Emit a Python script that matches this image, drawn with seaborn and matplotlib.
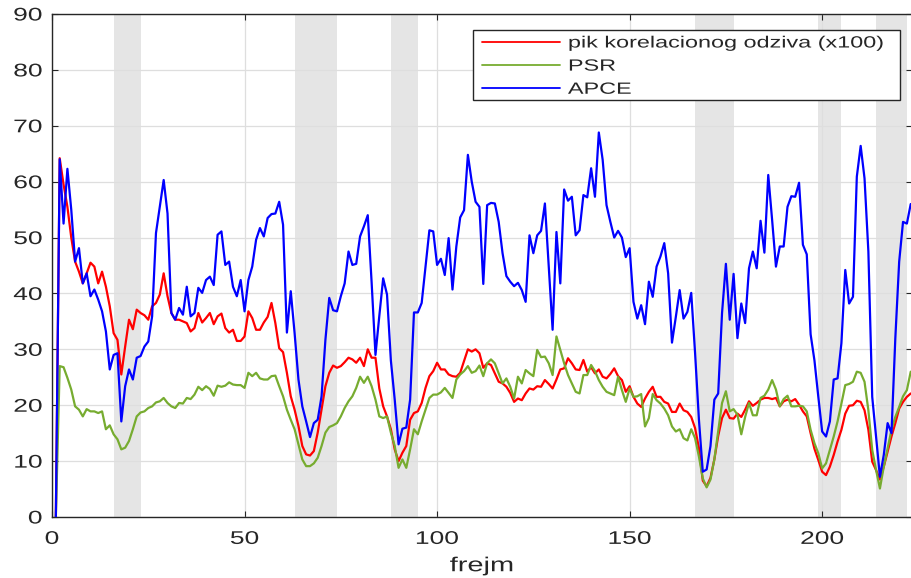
import numpy as np
import pandas as pd
import matplotlib
matplotlib.use("Agg")
import matplotlib.pyplot as plt
import seaborn as sns
from matplotlib.patches import Rectangle
from matplotlib.patheffects import AbstractPathEffect
from matplotlib.transforms import Affine2D

# Per-frame tracking quality measures (frames 1..223)
peak = [
    0, 64.2, 59.5, 55.5, 50, 45.7, 43.9, 41.8, 43.6, 45.5,
    44.8, 41.8, 43.9, 41.2, 37.7, 32.9, 31.7, 25.5, 30.5, 35.3,
    33.6, 37.1, 36.5, 36.1, 35.3, 37.7, 38.3, 39.8, 43.6, 39.5,
    36.5, 35.3, 35.3, 35, 34.7, 33.2, 33.8, 36.5, 34.8, 35.6,
    36.5, 34.5, 35.9, 36.4, 33.8, 33, 33.5, 31.5, 31.5, 32.3,
    36.8, 35.6, 33.5, 33.5, 34.8, 35.8, 38.3, 34.7, 30.2, 29.5,
    25.8, 21.6, 19.2, 16.3, 12.7, 11.2, 11, 11.8, 15.1, 19.2,
    23.4, 25.8, 27.1, 26.7, 27, 27.7, 28.5, 28.2, 27.6, 28.5,
    27, 30, 28.5, 28.5, 23, 19.8, 18, 15.7, 12.1, 10,
    11.5, 12.7, 17.4, 18.6, 18.9, 20.4, 23.1, 25.2, 26.1, 27.6,
    26.4, 26.4, 25.5, 25.2, 25.1, 25.8, 27.9, 30, 29.6, 30,
    29.3, 26.7, 27.5, 27.2, 25.7, 24.2, 23.9, 23.3, 22.2, 20.6,
    21.2, 20.9, 22.1, 23, 22.8, 23.4, 23.3, 24.5, 23.8, 23,
    24.6, 26.4, 26.6, 28.4, 27.5, 26.4, 26.3, 28.1, 26, 26.8,
    25.7, 26.4, 25.1, 24.8, 25.6, 26.6, 25.2, 24.5, 22.4, 23.4,
    21.5, 20.3, 19.7, 21.2, 22.4, 23.3, 21.5, 21.5, 20.6, 20.3,
    18.8, 18.8, 20.3, 19.1, 18.8, 17.9, 15.9, 12.3, 6.5, 5.5,
    7, 10.3, 14.5, 17.7, 19.2, 17.7, 17.6, 18.5, 17.9, 19.2,
    20.7, 19.9, 20.4, 21, 21.3, 21.3, 21.1, 21.3, 19.8, 20.7,
    21, 20.7, 21.1, 20.1, 18.9, 18, 15, 12.2, 10.2, 8.1,
    7.5, 9, 11.1, 13.5, 15.6, 18.5, 19.9, 20, 20.8, 20.6,
    19.1, 15.6, 9.9, 8.4, 6.7, 9, 11.7, 14.4, 16.8, 19.4,
    20.6, 21.5, 22.1,
]

psr = [
    0, 27, 26.8, 24.9, 22.8, 19.8, 19.2, 18, 19.3, 18.9,
    18.9, 18.6, 18.9, 15.7, 16.4, 14.8, 13.9, 12.1, 12.4, 13.6,
    15.7, 18, 18.7, 18.9, 19.5, 19.8, 20.5, 20.7, 21.3, 20.4,
    19.8, 19.5, 20.4, 20.3, 21.3, 21.1, 21.9, 23.3, 22.7, 23.4,
    22.9, 21.7, 23.5, 23.3, 23.5, 24.1, 23.7, 23.6, 23.6, 23.1,
    25.8, 25.2, 25.8, 24.8, 24.6, 24.6, 25.2, 25.3, 23.4, 21.6,
    19.2, 17.4, 15.7, 13, 10.3, 9.1, 9.1, 9.6, 10.6, 12.7,
    15.1, 16.1, 16.4, 16.8, 18, 19.5, 20.7, 21.6, 23.1, 25.1,
    24, 25.1, 23.4, 21, 18, 17.7, 18, 15.1, 12.7, 8.8,
    10.3, 8.8, 12.1, 15.7, 14.8, 17.1, 19.2, 21.3, 21.9, 21.9,
    22.3, 23.1, 22.2, 21.3, 24.6, 25.5, 26.1, 27, 25.8, 26.1,
    27.1, 25.2, 27.5, 28.2, 27.5, 25.7, 23.9, 24.8, 23.3, 21.2,
    25.1, 23.9, 26.3, 25.7, 25.2, 29.9, 28.6, 28.7, 27.5, 25.4,
    32.3, 29.9, 27.5, 25.4, 23.9, 22.4, 22.1, 25.4, 25.4, 27.2,
    26.1, 24.5, 23.3, 22.4, 22.1, 21.8, 25.1, 22.7, 20.6, 23,
    21.5, 21.6, 22, 16.2, 17.7, 22, 20.9, 20.3, 19.4, 18.2,
    16.2, 15.3, 15.7, 14.1, 13.7, 15.7, 14.1, 10.8, 6.9, 5.3,
    6.7, 10.3, 15.4, 20.4, 22.5, 18.9, 19.3, 18.3, 14.8, 17.9,
    20.4, 18.2, 18.2, 21.3, 21.7, 22.8, 24.5, 22.8, 19.8, 21.1,
    21.7, 19.8, 19.8, 19.9, 19.8, 18.9, 15.6, 13.2, 11.4, 8.7,
    9.6, 12, 14.4, 17.1, 20.3, 23.6, 23.8, 24.2, 26, 25.8,
    24.2, 19.1, 12, 8.4, 5.1, 9, 12.3, 15.6, 17.9, 19.7,
    21.6, 22.7, 26,
]

apce = [
    0, 64, 52.5, 62.3, 55, 45.7, 48.1, 41.8, 43.6, 39.5,
    40.7, 38.9, 36.8, 33.2, 26.4, 29, 29.3, 17.1, 23.4, 26.4,
    24.6, 28.5, 28.8, 30.5, 31.4, 35.9, 50.8, 55.5, 60.3, 54.3,
    36.5, 35.3, 37.4, 36.2, 41.2, 35.9, 36.5, 41, 40.1, 42.4,
    43, 41.5, 50.5, 51.1, 45.1, 45.7, 41.2, 39.5, 42.4, 36.8,
    42.4, 44.8, 49.6, 51.7, 50.2, 53.5, 54.2, 54.3, 56.4, 52.3,
    33, 40.4, 32.9, 24.6, 19.8, 17.1, 14.3, 16.8, 17.4, 21.6,
    31.7, 39.2, 37, 36.8, 39.5, 41.8, 47.5, 45.1, 45.3, 50.2,
    52, 54, 42, 29, 36, 42.7, 39.8, 28, 21, 13,
    15.8, 16, 21, 36.6, 36.6, 38.3, 44.8, 51.3, 51.1, 45.1,
    46.2, 43.3, 49.9, 40.7, 48.4, 53.6, 54.9, 64.8, 60, 56.4,
    55.5, 41.7, 55.8, 56.2, 56.1, 52.8, 47.2, 43.1, 42.1, 41.3,
    41.9, 40.6, 38.5, 50.4, 47.2, 50.4, 51.2, 56.1, 44.8, 33.5,
    51, 41.8, 58.6, 56.6, 57.3, 50.4, 51.3, 57.6, 57.2, 62.4,
    57.3, 68.8, 63.9, 55.8, 52.8, 50, 51.2, 50, 46.5, 48.1,
    38.5, 35.5, 37.9, 34.5, 42.1, 39.4, 44.8, 46.6, 49, 43.6,
    31.2, 35.8, 40.6, 35.5, 36.7, 40.1, 29.3, 17.4, 8.1, 8.5,
    12.7, 21, 22.1, 36.5, 45.3, 35.3, 43.5, 32, 38.2, 34.7,
    44.5, 47.5, 44.5, 53, 47.3, 61.2, 53.2, 44.8, 48.4, 48.4,
    55.5, 57.4, 57.3, 59.8, 48.7, 47, 32.7, 28, 21.5, 15.3,
    14.4, 17.1, 24.6, 24.8, 31.1, 44.2, 38.2, 39.4, 60.9, 66.4,
    60.6, 47.5, 21.5, 14.4, 7.2, 11.1, 16.8, 15, 32, 45.7,
    52.8, 52.5, 56,
]

# Frame intervals shaded in grey
shaded = [(16, 23), (63, 74), (88, 95), (167, 177), (199, 205), (214, 222)]

labels = ["pik korelacionog odziva (x100)", "PSR", "APCE"]
colors = ["#ff0000", "#77ac30", "#0000ff"]

frames = np.arange(1, len(peak) + 1)
df = pd.concat([
    pd.DataFrame({"frejm": frames, "vrijednost": vals, "mjera": lab})
    for vals, lab in zip([peak, psr, apce], labels)
], ignore_index=True)


class Widen(AbstractPathEffect):
    """Draw text glyphs stretched horizontally about a chosen anchor."""

    def __init__(self, factor, anchor="left"):
        super().__init__()
        self.factor = factor
        self.anchor = anchor

    def draw_path(self, renderer, gc, tpath, affine, rgbFace=None):
        ext = tpath.get_extents()
        if self.anchor == "center":
            cx = 0.5 * (ext.x0 + ext.x1)
        elif self.anchor == "right":
            cx = ext.x1
        else:
            cx = 0.0
        pre = Affine2D().translate(-cx, 0).scale(self.factor, 1).translate(cx, 0)
        renderer.draw_path(gc, tpath, pre + affine, rgbFace)


WIDE = 1.44

sns.set_theme(style="white")
plt.rcParams["font.family"] = ["Liberation Sans", "DejaVu Sans"]

W, H = 911, 578
fig = plt.figure(figsize=(W / 100, H / 100), dpi=100)
ax = fig.add_axes([52 / W, (H - 517) / H, (911.5 - 52) / W, (517 - 14) / H])

for a, b in shaded:
    ax.axvspan(a, b, color="#e5e5e5", lw=0, zorder=0)

ax.grid(True, color="#dedede", lw=0.9, zorder=0.5)
ax.set_axisbelow(True)

sns.lineplot(data=df, x="frejm", y="vrijednost", hue="mjera",
             hue_order=labels, palette=colors, lw=1.6, ax=ax, zorder=3,
             legend=False)

ax.set_xlim(0, 223.2)
ax.set_ylim(0, 90)
ax.set_xticks([0, 50, 100, 150, 200])
ax.set_yticks(np.arange(0, 91, 10))
ax.set_xlabel("frejm", fontsize=14.5, labelpad=6,
              path_effects=[Widen(WIDE, "center")])
ax.set_ylabel("")

for s in ax.spines.values():
    s.set_color("#262626")
    s.set_linewidth(1.0)
ax.tick_params(direction="in", length=4.5, width=0.8, color="#262626",
               labelsize=13.2, labelcolor="#262626",
               top=True, right=True, bottom=True, left=True)
ax.tick_params(axis="x", pad=10)
ax.tick_params(axis="y", pad=7)

# Legend entries, with a plain box drawn behind them
handles = [plt.Line2D([], [], color=c, lw=1.3) for c in colors]
leg = ax.legend(handles, labels, loc="upper left",
                bbox_to_anchor=(481.5 / W, 1 - 35.5 / H),
                bbox_transform=fig.transFigure,
                borderaxespad=0, borderpad=0, fontsize=11.7,
                handlelength=4.82, handletextpad=0.5, labelspacing=0.5,
                frameon=False)
leg.set_zorder(6)
for t in leg.get_texts():
    t.set_path_effects([Widen(WIDE, "left")])

box = Rectangle((473 / W, 1 - 100 / H), (900 - 473) / W, 70 / H,
                transform=fig.transFigure, facecolor="white",
                edgecolor="#262626", lw=1.0, zorder=5.5, clip_on=False)
ax.add_patch(box)

fig.canvas.draw()
for t in ax.get_xticklabels():
    t.set_path_effects([Widen(WIDE, "center")])
for t in ax.get_yticklabels():
    t.set_path_effects([Widen(WIDE, "right")])

fig.savefig("out.png", dpi=100)
